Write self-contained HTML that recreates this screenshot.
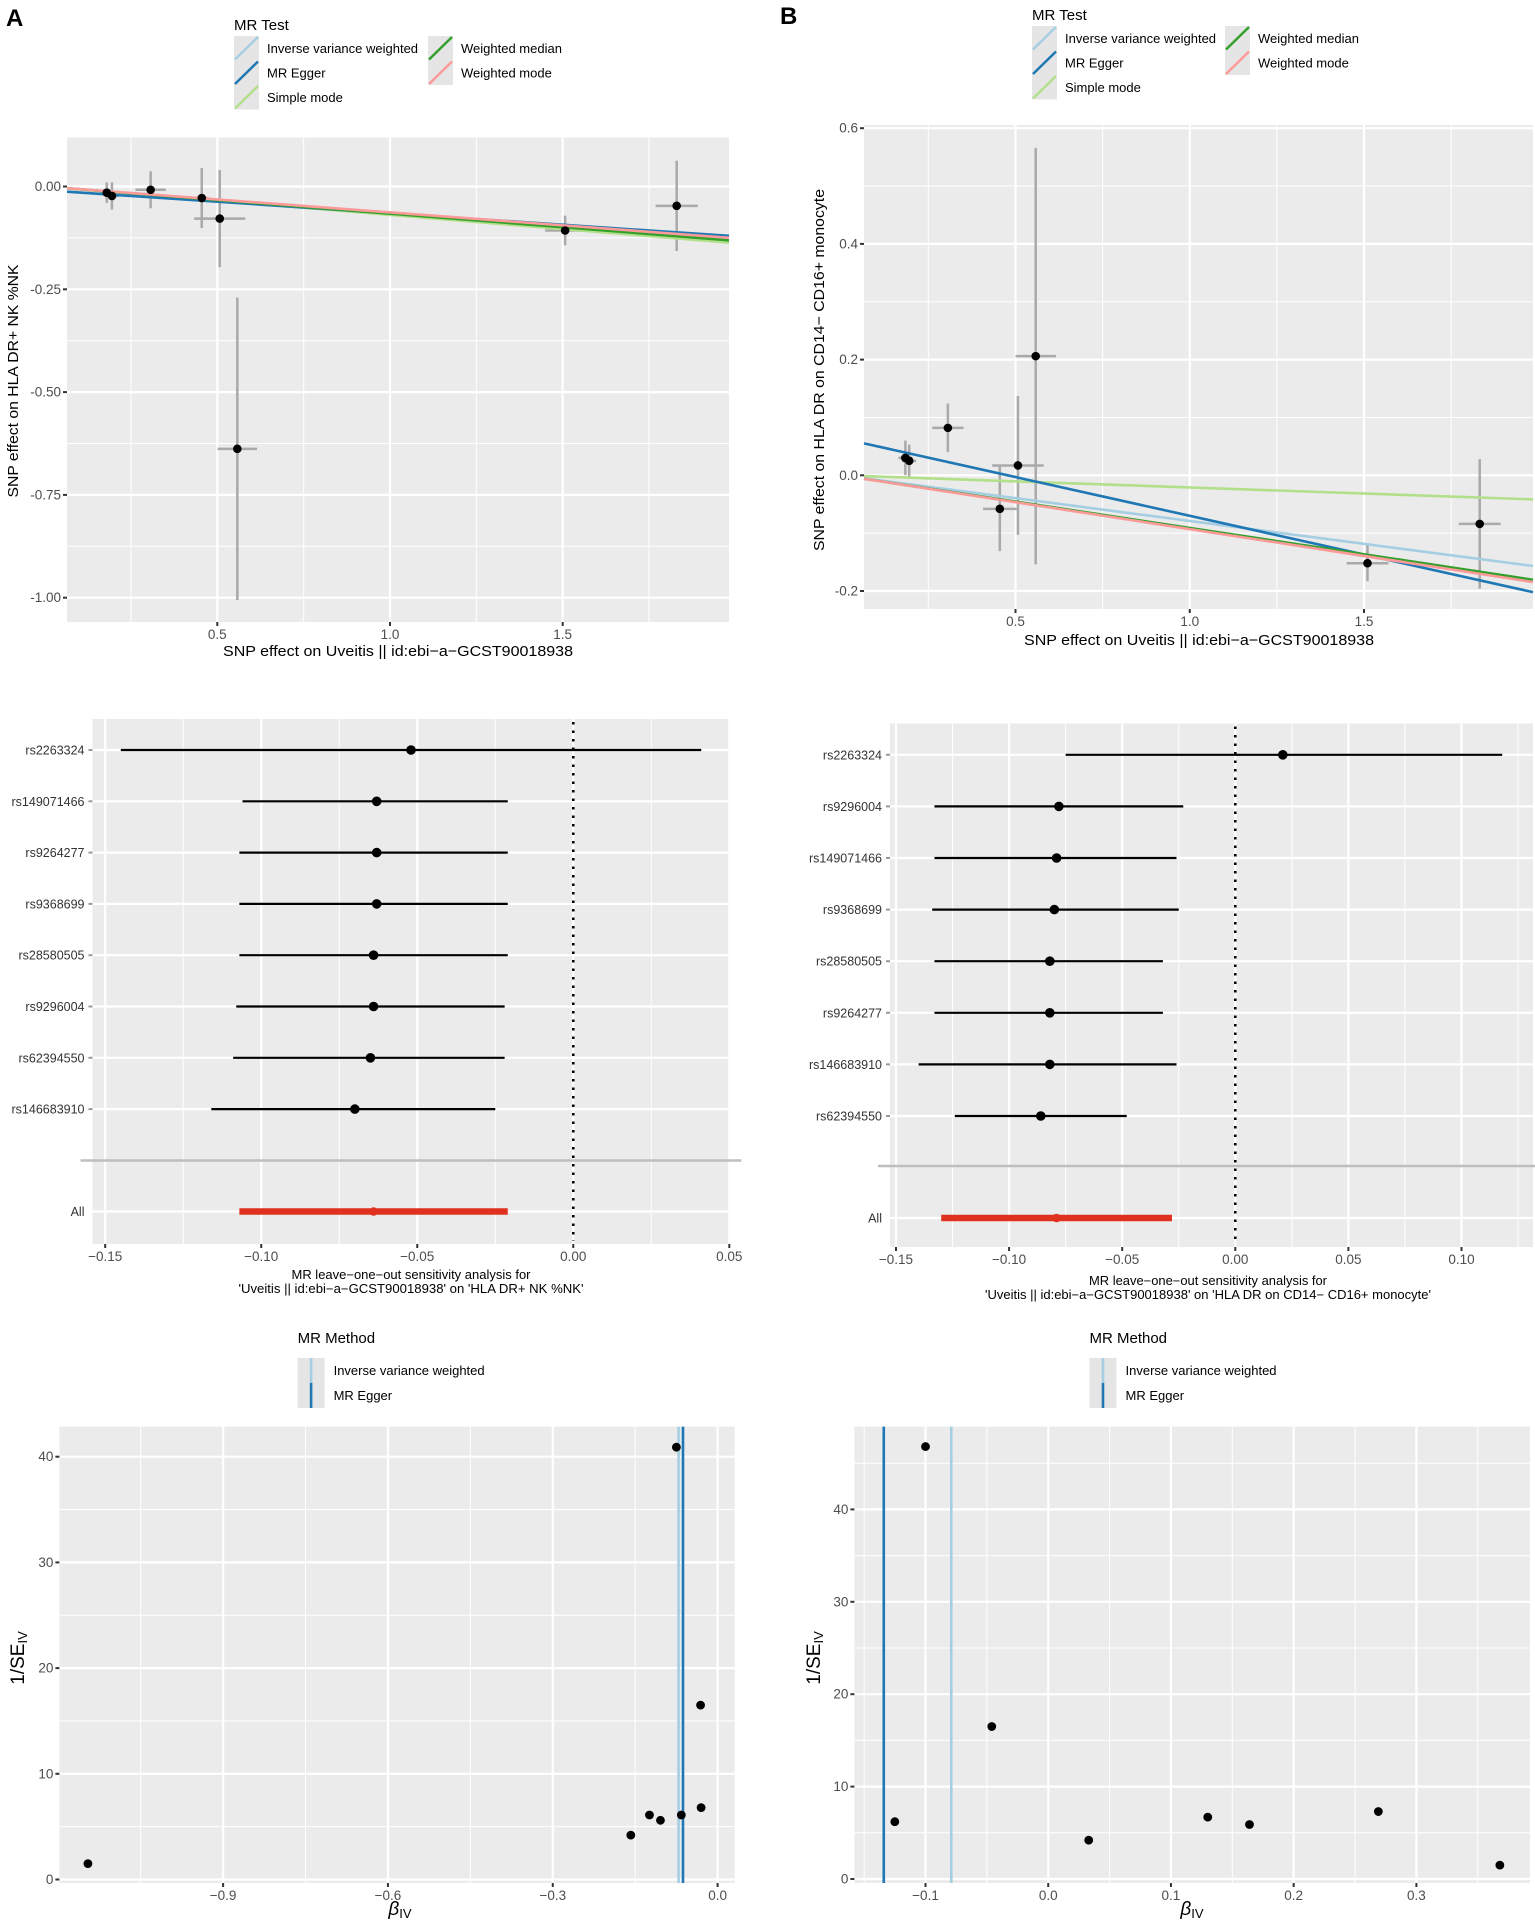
<!DOCTYPE html>
<html><head><meta charset="utf-8">
<style>
html,body{margin:0;padding:0;background:#fff;}
svg{display:block;font-family:"Liberation Sans",Arial,sans-serif;}
</style></head>
<body>
<svg id="fig" width="1535" height="1927" viewBox="0 0 1535 1927" xmlns="http://www.w3.org/2000/svg">
<text x="6" y="26" font-size="24" font-weight="bold">A</text>
<text x="780" y="24" font-size="24" font-weight="bold">B</text>
</svg>
<script>
// ===== Data =====
const scatAx=[0.180,0.195,0.307,0.455,0.507,0.558,1.507,1.830];
const scatAy=[-0.015,-0.023,-0.008,-0.028,-0.078,-0.638,-0.107,-0.047];
const scatAxse=[0.02,0.02,0.044,0.02,0.074,0.057,0.058,0.061];
const scatAyse=[0.025,0.033,0.045,0.073,0.118,0.368,0.036,0.110];
const scatBx=[0.184,0.195,0.306,0.455,0.507,0.558,1.510,1.832];
const scatBy=[0.030,0.025,0.082,-0.058,0.017,0.206,-0.152,-0.084];
const scatBxse=[0.02,0.02,0.045,0.048,0.074,0.058,0.060,0.060];
const scatByse=[0.030,0.028,0.042,0.073,0.120,0.360,0.031,0.112];
const methods=["Inverse variance weighted","MR Egger","Simple mode","Weighted median","Weighted mode"];
const methodColors=["#A6CEE3","#1F78B4","#B2DF8A","#33A02C","#FB9A99"];
const slopesA=[-0.064,-0.056,-0.069,-0.066,-0.063];
const interceptsA=[0,-0.009,0,0,0];
const slopesB=[-0.079,-0.134,-0.021,-0.091,-0.093];
const interceptsB=[0,0.064,0,0,0];
const looAsnps=["rs2263324","rs149071466","rs9264277","rs9368699","rs28580505","rs9296004","rs62394550","rs146683910"];
const looAest=[-0.052,-0.063,-0.063,-0.063,-0.064,-0.064,-0.065,-0.070];
const looAlo=[-0.145,-0.106,-0.107,-0.107,-0.107,-0.108,-0.109,-0.116];
const looAhi=[0.041,-0.021,-0.021,-0.021,-0.021,-0.022,-0.022,-0.025];
const looAall=[-0.064,-0.107,-0.021];
const looBsnps=["rs2263324","rs9296004","rs149071466","rs9368699","rs28580505","rs9264277","rs146683910","rs62394550"];
const looBest=[0.021,-0.078,-0.079,-0.080,-0.082,-0.082,-0.082,-0.086];
const looBlo=[-0.075,-0.133,-0.133,-0.134,-0.133,-0.133,-0.140,-0.124];
const looBhi=[0.118,-0.023,-0.026,-0.025,-0.032,-0.032,-0.026,-0.048];
const looBall=[-0.079,-0.130,-0.028];
const funAb=[-1.146,-0.158,-0.124,-0.104,-0.066,-0.075,-0.031,-0.030];
const funAp=[1.5,4.2,6.1,5.6,6.1,40.9,16.5,6.8];
const funAlines=[-0.071,-0.063];
const funBb=[-0.125,-0.100,-0.046,0.033,0.130,0.164,0.269,0.368];
const funBp=[6.2,46.8,16.5,4.2,6.7,5.9,7.3,1.5];
const funBlines=[-0.079,-0.134];
const scatXticks=[0.5,1.0,1.5];
const scatAyticks=[0,-0.25,-0.5,-0.75,-1.0];
const scatAylabels=["0.00","-0.25","-0.50","-0.75","-1.00"];
const scatByticks=[0.6,0.4,0.2,0.0,-0.2];
const looAticks=[-0.15,-0.10,-0.05,0.00,0.05];
const looBticks=[-0.15,-0.10,-0.05,0.00,0.05,0.10];
const funAxticks=[-0.9,-0.6,-0.3,0.0];
const funAyticks=[0,10,20,30,40];
const funBxticks=[-0.1,0.0,0.1,0.2,0.3];
const funByticks=[0,10,20,30,40];

// ===== Helpers =====
const svg=document.getElementById('fig');
const NS="http://www.w3.org/2000/svg";
function el(tag,attrs,parent){const e=document.createElementNS(NS,tag);for(const k in attrs)e.setAttribute(k,attrs[k]);(parent||svg).appendChild(e);return e;}
function lin(d0,d1,r0,r1){return v=>r0+(v-d0)*(r1-r0)/(d1-d0);}
function inv(d0,d1,r0,r1){return p=>d0+(p-r0)*(d1-d0)/(r1-r0);}
function fmt(v,d){return v.toFixed(d).replace('-','\u2212');}
function txt(x,y,s,size,anchor,fill,name,extra){
  const t=el('text',Object.assign({x:x,y:y,'font-size':size,'text-anchor':anchor||'start',fill:fill||'#000'},extra||{}));
  t.textContent=s;
  
  
  return t;
}
function panel(L,T,R,B,name){
  const r=el('rect',{x:L,y:T,width:R-L,height:B-T,fill:'#EBEBEB'});
  
  
  return r;
}
function vgrid(x,T,B,w){const l=el('line',{x1:x,x2:x,y1:T,y2:B,stroke:'#fff','stroke-width':w});}
function hgrid(y,L,R,w){const l=el('line',{x1:L,x2:R,y1:y,y2:y,stroke:'#fff','stroke-width':w});}
function xtick(x,B,label,name){const l=el('line',{x1:x,x2:x,y1:B,y2:B+4,stroke:'#333','stroke-width':2});txt(x,B+17,label,13.5,'middle','#4D4D4D',name);}
function ytick(y,L,label,name){const l=el('line',{x1:L-4,x2:L,y1:y,y2:y,stroke:'#333','stroke-width':2});txt(L-6,y+4.5,label,13.5,'end','#4D4D4D',name);}
function dot(x,y,r,fill,name){const c=el('circle',{cx:x,cy:y,r:r,fill:fill||'#000'});return c;}

function mrLegend(x0,y0,rowH,col2){
  txt(x0,y0,'MR Test',15,'start','#000','legend-title');
  const pos=[[0,0],[0,1],[0,2],[1,0],[1,1]];
  for(let i=0;i<methods.length;i++){
    const kx=x0+(pos[i][0]?col2:0), ky=y0+6+pos[i][1]*rowH;
    const g=el('g',{});
    
    
    el('rect',{x:kx,y:ky,width:25,height:rowH,fill:'#E5E5E5'},g);
    el('line',{x1:kx+1,y1:ky+rowH-1,x2:kx+24,y2:ky+1,stroke:methodColors[i],'stroke-width':2.5},g);
    txt(kx+33,ky+rowH/2+4.5,methods[i],13,'start','#000','legend-label');
  }
}

function scatter(cfg){
  const {L,T,R,B,xd,yd,yMaj,yMin,ylabels,xs,ys,xse,yse,slopes,ints,name}=cfg;
  const X=lin(xd[0],xd[1],xd[2],xd[3]), Y=lin(yd[0],yd[1],yd[2],yd[3]);
  const xmin=inv(xd[0],xd[1],xd[2],xd[3])(L), xmax=inv(xd[0],xd[1],xd[2],xd[3])(R);
  panel(L,T,R,B,name+'-panel');
  [0.25,0.75,1.25,1.75].forEach(v=>{if(X(v)>L&&X(v)<R)vgrid(X(v),T,B,1);});
  yMin.forEach(v=>{if(Y(v)>T&&Y(v)<B)hgrid(Y(v),L,R,1);});
  scatXticks.forEach(v=>vgrid(X(v),T,B,2.2));
  yMaj.forEach(v=>hgrid(Y(v),L,R,2.2));
  for(let i=0;i<xs.length;i++){
    const a=el('line',{x1:X(xs[i]-xse[i]),x2:X(xs[i]+xse[i]),y1:Y(ys[i]),y2:Y(ys[i]),stroke:'#A9A9A9','stroke-width':2.5});
    
    const b=el('line',{x1:X(xs[i]),x2:X(xs[i]),y1:Y(ys[i]-yse[i]),y2:Y(ys[i]+yse[i]),stroke:'#A9A9A9','stroke-width':2.5});
    
  }
  const order=[2,0,1,3,4];
  order.forEach(i=>{
    const l=el('line',{x1:L,x2:R,y1:Y(ints[i]+slopes[i]*xmin),y2:Y(ints[i]+slopes[i]*xmax),stroke:methodColors[i],'stroke-width':2.6});
    
  });
  for(let i=0;i<xs.length;i++)dot(X(xs[i]),Y(ys[i]),4.3,'#000','snp-point');
  scatXticks.forEach(v=>xtick(X(v),B,v.toFixed(1),'x-tick-label'));
  yMaj.forEach((v,i)=>ytick(Y(v),L,ylabels[i],'y-tick-label'));
}

function forest(cfg){
  const {L,T,R,B,xd,ticks,row0,step,sep,allY,snps,est,lo,hi,all,title1,title2,t1w,t2w,tc,ty}=cfg;
  const X=lin(xd[0],xd[1],xd[2],xd[3]);
  panel(L,T,R,B,'forest-panel');
  for(let i=0;i<ticks.length-1;i++)vgrid(X((ticks[i]+ticks[i+1])/2),T,B,1);
  const last=ticks[ticks.length-1]+0.025; if(X(last)<R)vgrid(X(last),T,B,1);
  ticks.forEach(v=>vgrid(X(v),T,B,2.2));
  snps.forEach((s,i)=>hgrid(row0+i*step,L,R,2.2));
  hgrid(allY,L,R,2.2);
  const sl=el('line',{x1:L-12,x2:R+12,y1:sep,y2:sep,stroke:'#BEBEBE','stroke-width':2.5});
  
  const zl=el('line',{x1:X(0),x2:X(0),y1:T+3,y2:B-3,stroke:'#000','stroke-width':2.5,'stroke-dasharray':'2.5,6'});
  
  snps.forEach((s,i)=>{
    const y=row0+i*step;
    const l=el('line',{x1:X(lo[i]),x2:X(hi[i]),y1:y,y2:y,stroke:'#000','stroke-width':2.2});
    
    dot(X(est[i]),y,4.8,'#000','estimate-point');
    const tk=el('line',{x1:L-4,x2:L,y1:y,y2:y,stroke:'#999','stroke-width':2});
    txt(L-8,y+4.5,s,12.5,'end','#333','snp-label');
  });
  const al=el('line',{x1:X(all[1]),x2:X(all[2]),y1:allY,y2:allY,stroke:'#E0301E','stroke-width':6.5});
  
  dot(X(all[0]),allY,4.3,'#E0301E','overall-point');
  txt(L-8,allY+4.5,'All',12.5,'end','#333','all-label');
  ticks.forEach(v=>xtick(X(v),B,fmt(v,2),'x-tick-label'));
  txt(tc,ty,title1,12.5,'middle','#000','x-axis-title',{textLength:t1w,lengthAdjust:'spacingAndGlyphs'});
  txt(tc,ty+14,title2,12.5,'middle','#000','x-axis-title',{textLength:t2w,lengthAdjust:'spacingAndGlyphs'});
}

function funnel(cfg){
  const {L,T,R,B,xd,yd,xticks,xmin,yticks,ymin,bs,ps,lines,xdec,lx,ly}=cfg;
  const X=lin(xd[0],xd[1],xd[2],xd[3]), Y=lin(yd[0],yd[1],yd[2],yd[3]);
  panel(L,T,R,B,'funnel-panel');
  xmin.forEach(v=>{if(X(v)>L&&X(v)<R)vgrid(X(v),T,B,1);});
  ymin.forEach(v=>{if(Y(v)>T&&Y(v)<B)hgrid(Y(v),L,R,1);});
  xticks.forEach(v=>vgrid(X(v),T,B,2.2));
  yticks.forEach(v=>hgrid(Y(v),L,R,2.2));
  lines.forEach((v,i)=>{
    const l=el('line',{x1:X(v),x2:X(v),y1:T,y2:B,stroke:methodColors[i],'stroke-width':2.6});
    
  });
  bs.forEach((b,i)=>dot(X(b),Y(ps[i]),4.4,'#000','funnel-point'));
  xticks.forEach(v=>xtick(X(v),B,fmt(v,xdec),'x-tick-label'));
  yticks.forEach(v=>ytick(Y(v),L,String(v),'y-tick-label'));
  txt(lx,ly,'MR Method',15,'start','#000','legend-title');
  for(let i=0;i<2;i++){
    const ky=ly+15+i*25;
    const g=el('g',{});
    
    
    el('rect',{x:lx,y:ky,width:27,height:25,fill:'#E5E5E5'},g);
    el('line',{x1:lx+13.5,x2:lx+13.5,y1:ky,y2:ky+25,stroke:methodColors[i],'stroke-width':2.6},g);
    txt(lx+36,ky+17,methods[i==0?0:1],13,'start','#000','legend-label');
  }
}

mrLegend(234,30,24.5,194);
mrLegend(1032,20,24.5,193);

scatter({L:67,T:137.5,R:729,B:622,xd:[0.5,1.5,217.3,562.7],yd:[0,-1,186.5,597.7],
  yMaj:scatAyticks,yMin:[-0.125,-0.375,-0.625,-0.875],ylabels:scatAylabels,
  xs:scatAx,ys:scatAy,xse:scatAxse,yse:scatAyse,slopes:slopesA,ints:interceptsA,name:'scatter-a'});
scatter({L:864,T:125,R:1533,B:609,xd:[0.5,1.5,1015.5,1364],yd:[0.6,-0.2,128.2,591],
  yMaj:scatByticks,yMin:[0.5,0.3,0.1,-0.1],ylabels:scatByticks.map(v=>v.toFixed(1)),
  xs:scatBx,ys:scatBy,xse:scatBxse,yse:scatByse,slopes:slopesB,ints:interceptsB,name:'scatter-b'});

txt(398,656,'SNP effect on Uveitis || id:ebi\u2212a\u2212GCST90018938',15,'middle','#000','x-axis-title',{textLength:350,lengthAdjust:'spacingAndGlyphs'});
txt(1199,645,'SNP effect on Uveitis || id:ebi\u2212a\u2212GCST90018938',15,'middle','#000','x-axis-title',{textLength:350,lengthAdjust:'spacingAndGlyphs'});
txt(0,0,'SNP effect on HLA DR+ NK %NK',15,'middle','#000','y-axis-title',{transform:'translate(18,381) rotate(-90)',textLength:233,lengthAdjust:'spacingAndGlyphs'});
txt(0,0,'SNP effect on HLA DR on CD14\u2212 CD16+ monocyte',15,'middle','#000','y-axis-title',{transform:'translate(824,370) rotate(-90)',textLength:362,lengthAdjust:'spacingAndGlyphs'});

forest({L:92.5,T:719,R:729.3,B:1244,xd:[-0.15,0.05,105.2,729.3],ticks:looAticks,row0:750,step:51.3,sep:1160.5,allY:1211.5,
  snps:looAsnps,est:looAest,lo:looAlo,hi:looAhi,all:looAall,
  title1:'MR leave\u2212one\u2212out sensitivity analysis for',title2:"'Uveitis || id:ebi\u2212a\u2212GCST90018938' on 'HLA DR+ NK %NK'",
  t1w:239,t2w:345,tc:411,ty:1279});
forest({L:890,T:723.5,R:1533,B:1247,xd:[-0.15,0.10,896,1461.5],ticks:looBticks,row0:754.8,step:51.6,sep:1166,allY:1218,
  snps:looBsnps,est:looBest,lo:looBlo,hi:looBhi,all:looBall,
  title1:'MR leave\u2212one\u2212out sensitivity analysis for',title2:"'Uveitis || id:ebi\u2212a\u2212GCST90018938' on 'HLA DR on CD14\u2212 CD16+ monocyte'",
  t1w:238,t2w:446,tc:1208,ty:1285});

funnel({L:59.4,T:1426.6,R:734.7,B:1883,xd:[-0.9,0,223.1,717.6],yd:[0,40,1879.5,1456.7],
  xticks:funAxticks,xmin:[-1.05,-0.75,-0.45,-0.15],yticks:funAyticks,ymin:[5,15,25,35],
  bs:funAb,ps:funAp,lines:funAlines,xdec:1,lx:297.6,ly:1343});
funnel({L:854.4,T:1426.6,R:1530,B:1883,xd:[-0.1,0.3,925.5,1416.4],yd:[0,40,1879,1509.4],
  xticks:funBxticks,xmin:[-0.15,-0.05,0.05,0.15,0.25,0.35],yticks:funByticks,ymin:[5,15,25,35,45],
  bs:funBb,ps:funBp,lines:funBlines,xdec:1,lx:1089.5,ly:1343});

function betaTitle(x,y){
  const t=el('text',{x:x,y:y,'font-size':19,'text-anchor':'middle','font-style':'italic'});
  
  
  t.textContent='\u03B2';
  const s=el('tspan',{'font-size':13,'font-style':'normal',dy:3},t);
  s.textContent='IV';
}
betaTitle(400,1915);
betaTitle(1192,1915);
function seTitle(x,y){
  const t=el('text',{x:0,y:0,'font-size':19,'text-anchor':'middle',transform:'translate('+x+','+y+') rotate(-90)'});
  
  
  t.textContent='1/SE';
  const s=el('tspan',{'font-size':13,dy:3},t);
  s.textContent='IV';
}
seTitle(24,1658);
seTitle(820,1658);
</script>
</body></html>
